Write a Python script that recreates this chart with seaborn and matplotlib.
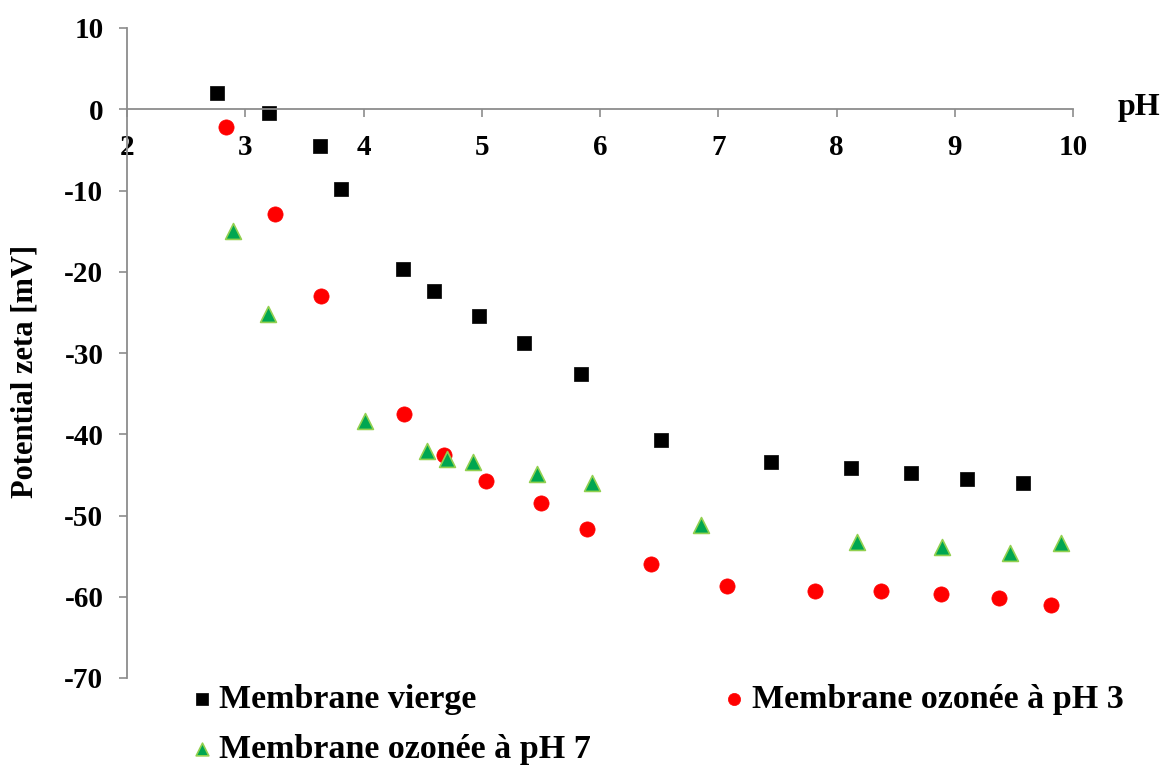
import pandas as pd
import matplotlib.pyplot as plt
import seaborn as sns

# Zeta potential vs pH - three membranes
ph_vierge = [2.76, 3.20, 3.63, 3.81, 4.33, 4.60, 4.98, 5.36, 5.84, 6.52, 7.45, 8.12, 8.63, 9.10, 9.58]
zeta_vierge = [2.0, -0.4, -4.5, -9.8, -19.6, -22.4, -25.5, -28.8, -32.6, -40.7, -43.4, -44.1, -44.8, -45.5, -46.0]

ph_oz3 = [2.84, 3.25, 3.64, 4.34, 4.68, 5.04, 5.50, 5.89, 6.43, 7.07, 7.82, 8.38, 8.88, 9.37, 9.81]
zeta_oz3 = [-2.2, -12.9, -23.0, -37.5, -42.5, -45.8, -48.5, -51.7, -56.0, -58.7, -59.3, -59.3, -59.7, -60.2, -61.0]

ph_oz7 = [2.90, 3.19, 4.01, 4.54, 4.71, 4.93, 5.47, 5.93, 6.85, 8.17, 8.89, 9.47, 9.90]
zeta_oz7 = [-15.0, -25.2, -38.4, -42.0, -43.0, -43.4, -44.9, -46.0, -51.2, -53.3, -53.9, -54.6, -53.4]

labels = ['Membrane vierge', 'Membrane ozonée à pH 3', 'Membrane ozonée à pH 7']
x_ticks = [2, 3, 4, 5, 6, 7, 8, 9, 10]
y_ticks = [10, 0, -10, -20, -30, -40, -50, -60, -70]

df_v = pd.DataFrame({'pH': ph_vierge, 'zeta': zeta_vierge})
df_3 = pd.DataFrame({'pH': ph_oz3, 'zeta': zeta_oz3})
df_7 = pd.DataFrame({'pH': ph_oz7, 'zeta': zeta_oz7})

sns.set_style('white')
plt.rcParams['font.family'] = ['Liberation Serif', 'DejaVu Serif']
plt.rcParams['font.weight'] = 'bold'
plt.rcParams['text.color'] = 'black'
plt.rcParams['axes.labelcolor'] = 'black'
plt.rcParams['xtick.color'] = 'black'
plt.rcParams['ytick.color'] = 'black'

fig = plt.figure(figsize=(11.63, 7.68), dpi=100)
ax = fig.add_axes([127 / 1163, 1 - 678 / 768, (1073 - 127) / 1163, (678 - 28) / 768])

sns.scatterplot(data=df_v, x='pH', y='zeta', marker='s', color='black', s=110,
                edgecolor='black', linewidth=0.5, label=labels[0], ax=ax)
sns.scatterplot(data=df_3, x='pH', y='zeta', marker='o', color='#ff0000', s=120,
                edgecolor='#ff0000', linewidth=0.5, label=labels[1], ax=ax)
sns.scatterplot(data=df_7, x='pH', y='zeta', marker='^', color='#00a651', s=130,
                edgecolor='#92d050', linewidth=1.2, label=labels[2], ax=ax)

# axis crossing at zeta = 0, like the original
axis_col = '#8c8c8c'
ax.spines['top'].set_visible(False)
ax.spines['right'].set_visible(False)
ax.spines['bottom'].set_position(('data', 0))
ax.spines['bottom'].set_color(axis_col)
ax.spines['left'].set_color(axis_col)
ax.spines['bottom'].set_linewidth(1.3)
ax.spines['left'].set_linewidth(1.3)

ax.set_xlim(2, 10)
ax.set_ylim(-70, 10)
ax.set_xticks(x_ticks)
ax.set_yticks(y_ticks)
ax.set_xticklabels([str(t) for t in x_ticks])
ax.set_yticklabels([str(t) for t in y_ticks])
ax.tick_params(axis='x', bottom=True, direction='out', length=6, width=1.2,
               color=axis_col, pad=12, labelsize=21, labelcolor='black')
ax.tick_params(axis='y', left=True, direction='out', length=6, width=1.2,
               color=axis_col, pad=11, labelsize=21, labelcolor='black')
for lab in ax.get_xticklabels() + ax.get_yticklabels():
    lab.set_fontweight('bold')
ax.grid(False)

ax.set_xlabel('')
ax.set_ylabel('Potential zeta [mV]', fontsize=22, fontweight='bold')
ax.yaxis.set_label_coords((40 - 127) / 946, (678 - 371) / 650)
ax.text(1139 / 1163, 1 - 107 / 768, 'pH', transform=fig.transFigure, fontsize=23,
        fontweight='bold', ha='center', va='center')

handles, lbls = ax.get_legend_handles_labels()
ax.get_legend().remove()
order = [0, 2, 1]
fig.legend([handles[i] for i in order], [lbls[i] for i in order], ncol=2,
           loc='upper left', bbox_to_anchor=(188 / 1163, 1 - 684 / 768),
           frameon=False, prop={'size': 24.5, 'weight': 'bold'},
           handletextpad=0.12, handlelength=0.8, markerscale=0.8,
           labelspacing=0.55, columnspacing=3.8, borderpad=0, borderaxespad=0)

fig.savefig('out.png', dpi=100)
